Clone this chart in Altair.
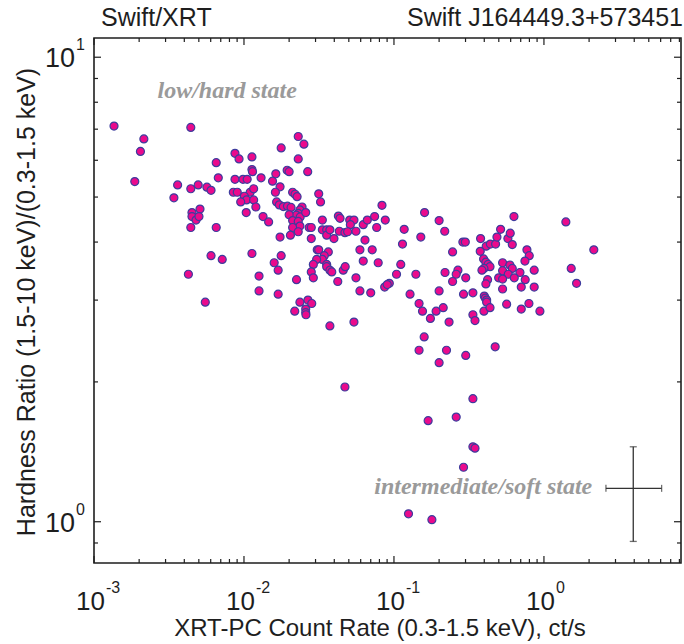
import altair as alt
import pandas as pd

# ---- data (count rate ct/s, hardness ratio) ----
rate = [
    0.00136, 0.00442, 0.00215, 0.00204, 0.00187, 0.00361, 0.00442, 0.00341, 0.00495, 0.00566,
    0.00603, 0.00653, 0.00674, 0.00871, 0.00927, 0.0113, 0.0113, 0.0114, 0.00871, 0.00985,
    0.0105, 0.0130, 0.0155, 0.0163, 0.0177, 0.0194, 0.0200, 0.0230, 0.0251, 0.0230,
    0.0266, 0.0174, 0.0162, 0.0211, 0.0219, 0.0226, 0.00849, 0.00902, 0.0110, 0.0116,
    0.01005, 0.0104, 0.0116, 0.00951, 0.0120, 0.01035, 0.0134, 0.0146, 0.0165, 0.0172,
    0.0183, 0.0195, 0.0206, 0.0244, 0.0236, 0.0230, 0.0223, 0.0237, 0.0258, 0.0200,
    0.0211, 0.0230, 0.0236, 0.0211, 0.0230, 0.0204, 0.0174, 0.0272, 0.0281, 0.0281,
    0.0315, 0.0324, 0.0333, 0.0333, 0.0356, 0.0356, 0.0374, 0.00450, 0.00450, 0.00479,
    0.00509, 0.00501, 0.00442, 0.00653, 0.00603, 0.00716, 0.00426, 0.00552, 0.0113, 0.0177,
    0.0159, 0.0169, 0.0126, 0.0126, 0.0169, 0.0224, 0.0236, 0.0267, 0.0283, 0.0218,
    0.0258, 0.0258, 0.0259, 0.0308, 0.0315, 0.0365, 0.0343, 0.0333, 0.0305, 0.0290,
    0.0356, 0.0356, 0.0374, 0.0281, 0.0290, 0.0374, 0.0398, 0.0426, 0.0437, 0.0432,
    0.0471, 0.0507, 0.0541, 0.0512, 0.0491, 0.0558, 0.0624, 0.0664, 0.0832, 0.0743,
    0.0767, 0.0875, 0.0641, 0.0593, 0.0716, 0.0624, 0.0785, 0.0385, 0.0422, 0.0459,
    0.0473, 0.0558, 0.0593, 0.0700, 0.0541, 0.0471, 0.117, 0.114, 0.151, 0.160,
    0.200, 0.218, 0.104, 0.111, 0.140, 0.0867, 0.0931, 0.0902, 0.128, 0.147,
    0.155, 0.175, 0.191, 0.213, 0.233, 0.200, 0.219, 0.159, 0.147, 0.224,
    0.200, 0.246, 0.288, 0.299, 0.378, 0.412, 0.439, 0.476, 0.486, 0.514,
    0.575, 0.596, 0.615, 0.631, 0.376, 0.396, 0.410, 0.424, 0.437, 0.398,
    0.386, 0.530, 0.530, 0.593, 0.615, 0.578, 0.692, 0.770, 0.798, 0.747,
    0.861, 0.499, 0.530, 0.634, 0.750, 0.421, 0.410, 0.530, 0.706, 0.861,
    0.267, 0.260, 0.246, 0.301, 0.291, 0.336, 0.400, 0.406, 0.415, 0.415,
    0.398, 0.437, 0.336, 0.347, 0.564, 0.706, 0.794, 0.940, 0.301, 0.473,
    0.336, 0.260, 0.169, 1.40, 1.52, 1.65, 2.15, 0.336, 0.347, 0.291,
    0.125, 0.179,
]
ratio = [
    7.11, 7.06, 6.67, 6.27, 5.40, 5.31, 5.21, 4.98, 5.31, 5.25,
    5.17, 5.93, 5.50, 6.21, 6.04, 6.10, 5.73, 5.67, 5.46, 5.46,
    5.46, 5.50, 5.41, 5.61, 6.38, 5.71, 5.67, 6.75, 6.50, 6.04,
    5.67, 5.26, 5.12, 5.12, 5.07, 5.01, 5.12, 5.12, 5.12, 5.21,
    5.02, 4.93, 4.93, 4.88, 4.76, 4.63, 4.54, 4.42, 4.88, 4.81,
    4.77, 4.78, 4.75, 4.76, 4.69, 4.61, 4.57, 4.53, 4.63, 4.58,
    4.45, 4.43, 4.33, 4.30, 4.21, 4.14, 4.10, 4.30, 4.30, 4.07,
    5.08, 4.88, 4.46, 4.25, 4.25, 4.14, 4.25, 4.63, 4.54, 4.46,
    4.71, 4.54, 4.30, 4.30, 3.74, 3.67, 3.41, 2.97, 3.78, 3.74,
    3.61, 3.48, 3.38, 3.14, 3.09, 3.32, 2.97, 3.00, 2.95, 2.84,
    2.87, 2.82, 2.79, 3.85, 3.85, 3.81, 3.74, 3.67, 3.67, 3.58,
    3.58, 3.54, 3.48, 3.45, 3.35, 2.64, 4.07, 4.55, 4.50, 4.22,
    4.19, 4.46, 4.46, 4.36, 4.21, 4.22, 4.36, 4.46, 4.80, 4.54,
    4.30, 4.46, 4.04, 3.85, 3.85, 3.64, 3.61, 3.45, 3.29, 3.48,
    3.54, 3.35, 3.14, 3.11, 2.69, 1.95, 4.26, 3.96, 4.10, 4.63,
    4.45, 4.22, 3.41, 3.58, 3.41, 3.20, 3.26, 3.24, 3.09, 2.95,
    2.84, 2.74, 2.84, 2.89, 2.69, 3.14, 3.44, 2.50, 2.34, 2.34,
    2.20, 3.81, 4.00, 4.00, 4.07, 3.92, 3.96, 3.96, 4.10, 4.26,
    4.07, 4.18, 3.95, 4.54, 3.82, 3.68, 3.62, 3.58, 3.54, 3.51,
    3.48, 3.61, 3.47, 3.57, 3.51, 3.41, 3.44, 3.85, 3.74, 3.64,
    3.48, 3.35, 3.33, 3.35, 3.32, 3.32, 3.25, 3.17, 3.20, 3.20,
    3.48, 3.41, 3.29, 3.35, 3.09, 3.11, 3.06, 3.03, 3.00, 2.97,
    2.84, 2.89, 2.79, 2.71, 2.94, 2.87, 2.95, 2.84, 2.28, 2.38,
    1.84, 1.68, 1.65, 4.42, 3.51, 3.26, 3.85, 1.45, 1.44, 1.31,
    1.04, 1.01,
]

# representative error bar (count rate, hardness ratio)
err_x = [3.94]
err_xlo = [2.59]
err_xhi = [6.09]
err_y = [1.18]
err_ylo = [0.907]
err_yhi = [1.45]

# axis tick values
x_major = [0.001, 0.01, 0.1, 1.0]
x_minor = [m * d for d in (0.001, 0.01, 0.1) for m in range(2, 10)] + [2.0, 3.0, 4.0, 5.0, 6.0, 7.0, 8.0]
x_exp = ["-3", "-2", "-1", "0"]
y_major = [1.0, 10.0]
y_minor = [0.9, 2.0, 3.0, 4.0, 5.0, 6.0, 7.0, 8.0, 9.0]
y_exp = ["0", "1"]

W, H = 587, 525
INK = "#1e1e1e"

xs = alt.Scale(type="log", domain=[0.001, 8.2], nice=False)
ys = alt.Scale(type="log", domain=[0.815, 11.0], nice=False)

df = pd.DataFrame({"rate": rate, "ratio": ratio})

pts = alt.Chart(df).mark_circle(
    size=64, fill="#ea0a8c", stroke="#3d3d9e", strokeWidth=1.2, opacity=1
).encode(
    x=alt.X("rate:Q", scale=xs, axis=None),
    y=alt.Y("ratio:Q", scale=ys, axis=None),
)

edf = pd.DataFrame({"x": err_x, "xlo": err_xlo, "xhi": err_xhi,
                    "y": err_y, "ylo": err_ylo, "yhi": err_yhi})
eh = alt.Chart(edf).mark_rule(color="#333333", strokeWidth=1.3).encode(
    x=alt.X("xlo:Q", scale=xs, axis=None), x2="xhi:Q", y=alt.Y("y:Q", scale=ys, axis=None))
ev = alt.Chart(edf).mark_rule(color="#333333", strokeWidth=1.3).encode(
    x=alt.X("x:Q", scale=xs, axis=None), y=alt.Y("ylo:Q", scale=ys, axis=None), y2="yhi:Q")
cap_l = alt.Chart(edf).mark_tick(color="#333333", orient="vertical", size=7, thickness=1.3).encode(
    x=alt.X("xlo:Q", scale=xs, axis=None), y=alt.Y("y:Q", scale=ys, axis=None))
cap_r = alt.Chart(edf).mark_tick(color="#333333", orient="vertical", size=7, thickness=1.3).encode(
    x=alt.X("xhi:Q", scale=xs, axis=None), y=alt.Y("y:Q", scale=ys, axis=None))
cap_t = alt.Chart(edf).mark_tick(color="#333333", orient="horizontal", size=7, thickness=1.3).encode(
    x=alt.X("x:Q", scale=xs, axis=None), y=alt.Y("yhi:Q", scale=ys, axis=None))
cap_b = alt.Chart(edf).mark_tick(color="#333333", orient="horizontal", size=7, thickness=1.3).encode(
    x=alt.X("x:Q", scale=xs, axis=None), y=alt.Y("ylo:Q", scale=ys, axis=None))

# ticks (pointing inward, all four sides)
xmaj = pd.DataFrame({"v": x_major, "e": x_exp})
xmin = pd.DataFrame({"v": x_minor})
ymaj = pd.DataFrame({"v": y_major, "e": y_exp})
ymin = pd.DataFrame({"v": y_minor})


def xticks(d, ln):
    base = alt.Chart(d).mark_rule(color=INK, strokeWidth=1.2)
    return [
        base.encode(x=alt.X("v:Q", scale=xs, axis=None), y=alt.value(H), y2=alt.value(H - ln)),
        base.encode(x=alt.X("v:Q", scale=xs, axis=None), y=alt.value(0), y2=alt.value(ln)),
    ]


def yticks(d, ln):
    base = alt.Chart(d).mark_rule(color=INK, strokeWidth=1.2)
    return [
        base.encode(y=alt.Y("v:Q", scale=ys, axis=None), x=alt.value(0), x2=alt.value(ln)),
        base.encode(y=alt.Y("v:Q", scale=ys, axis=None), x=alt.value(W), x2=alt.value(W - ln)),
    ]


tick_layers = xticks(xmaj, 7) + xticks(xmin, 4) + yticks(ymaj, 7) + yticks(ymin, 4)

FONT = "Liberation Sans"
xl10 = alt.Chart(xmaj).mark_text(font=FONT, fontSize=26, align="right", baseline="alphabetic",
                                 dx=11, color=INK).encode(
    x=alt.X("v:Q", scale=xs, axis=None), y=alt.value(572), text=alt.value("10"))
xlexp = alt.Chart(xmaj).mark_text(font=FONT, fontSize=16, align="left", baseline="alphabetic",
                                  dx=12, color=INK).encode(
    x=alt.X("v:Q", scale=xs, axis=None), y=alt.value(555), text="e:N")
yl10 = alt.Chart(ymaj).mark_text(font=FONT, fontSize=27, align="right", baseline="alphabetic",
                                 dy=10, color=INK).encode(
    y=alt.Y("v:Q", scale=ys, axis=None), x=alt.value(-19), text=alt.value("10"))
ylexp = alt.Chart(ymaj).mark_text(font=FONT, fontSize=16, align="left", baseline="alphabetic",
                                  dy=-7, color=INK).encode(
    y=alt.Y("v:Q", scale=ys, axis=None), x=alt.value(-18), text="e:N")

one = pd.DataFrame({"a": [0]})


def label(txt, x, y, **kw):
    return alt.Chart(one).mark_text(text=txt, **kw).encode(x=alt.value(x), y=alt.value(y))


xtitle = label("XRT-PC Count Rate (0.3-1.5 keV), ct/s", 286, 598, font=FONT, fontSize=24,
               align="center", baseline="alphabetic", color=INK)
ytitle = label("Hardness Ratio (1.5-10 keV)/(0.3-1.5 keV)", -67, 264, font=FONT, fontSize=25,
               align="center", baseline="middle", angle=270, color=INK)
t_left = label("Swift/XRT", 7, -12, font=FONT, fontSize=25, align="left",
               baseline="alphabetic", color=INK)
t_right = label("Swift J164449.3+573451", 589, -12, font=FONT, fontSize=25, align="right",
                baseline="alphabetic", color=INK)

ann = pd.DataFrame({"x": [0.00265, 2.10], "y": [8.45, 1.19],
                    "t": ["low/hard state", "intermediate/soft state"]})
ann_l = alt.Chart(ann.iloc[[0]]).mark_text(font="Liberation Serif", fontSize=24, fontStyle="italic",
                                           fontWeight="bold", align="left", baseline="middle",
                                           color="#9a9a9a").encode(
    x=alt.X("x:Q", scale=xs, axis=None), y=alt.Y("y:Q", scale=ys, axis=None), text="t:N")
ann_r = alt.Chart(ann.iloc[[1]]).mark_text(font="Liberation Serif", fontSize=24, fontStyle="italic",
                                           fontWeight="bold", align="right", baseline="middle",
                                           color="#9a9a9a").encode(
    x=alt.X("x:Q", scale=xs, axis=None), y=alt.Y("y:Q", scale=ys, axis=None), text="t:N")

chart = alt.layer(
    ann_l, ann_r, eh, ev, cap_l, cap_r, cap_t, cap_b, pts, *tick_layers,
    xl10, xlexp, yl10, ylexp, xtitle, ytitle, t_left, t_right,
).properties(
    width=W, height=H,
    padding={"left": 94, "top": 38, "right": 3, "bottom": 81},
    autosize=alt.AutoSizeParams(type="none"),
    background="white",
).configure_view(stroke=INK, strokeWidth=1.6)

chart.save("out.html", embed_options={"renderer": "svg", "actions": False})
